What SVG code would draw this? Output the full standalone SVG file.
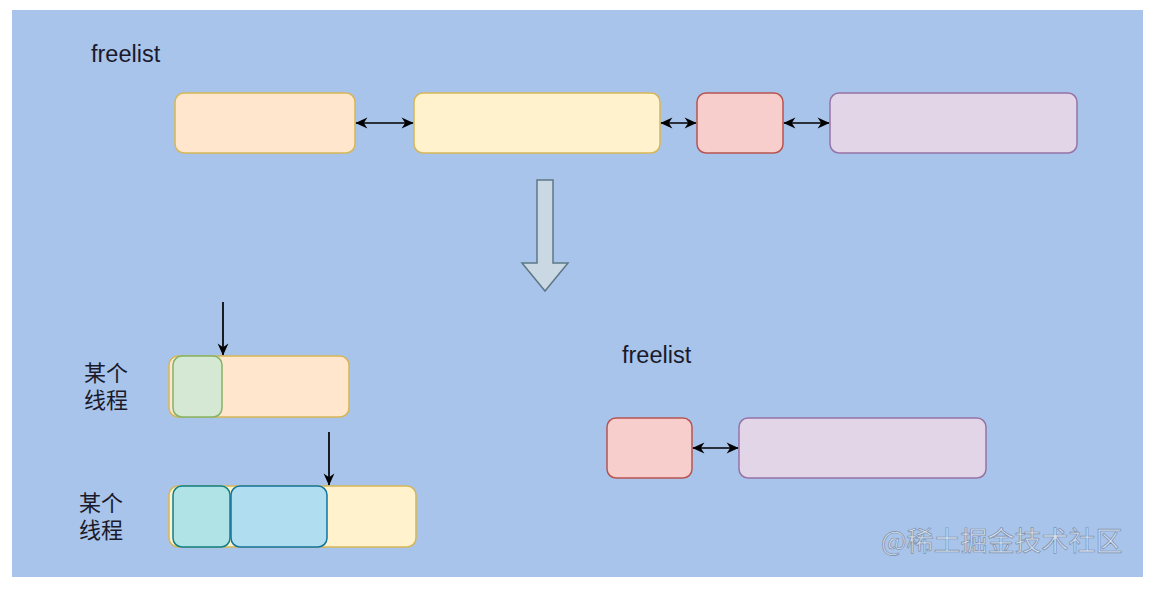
<svg xmlns="http://www.w3.org/2000/svg" width="1166" height="600" viewBox="0 0 1166 600">
<defs>
<marker id="ah" viewBox="0 0 10 10" refX="9.5" refY="5" markerWidth="13" markerHeight="12" markerUnits="userSpaceOnUse" orient="auto-start-reverse">
<path d="M0,0.5 L10,5 L0,9.5 L3,5 Z" fill="#000"/>
</marker>
<style>
.lbl{font-family:"Liberation Sans",Arial,sans-serif;font-size:23.5px;fill:#1a1a2a}
.cjk{font-family:"Noto Sans CJK SC","Noto Sans CJK JP",sans-serif;font-size:22px;fill:#1a1a2a}
.orange{fill:#FFE6CC;stroke:#D6B656;stroke-width:1.5}
.yellow{fill:#FFF2CC;stroke:#D6B656;stroke-width:1.5}
.red{fill:#F8CECC;stroke:#B85450;stroke-width:1.5}
.purple{fill:#E1D5E7;stroke:#9673A6;stroke-width:1.5}
.green{fill:#D5E8D4;stroke:#82B366;stroke-width:1.5}
.teal{fill:#B0E3E6;stroke:#0E8088;stroke-width:1.5}
.blue{fill:#B1DDF0;stroke:#10739E;stroke-width:1.5}
.conn{stroke:#000;stroke-width:1.7;fill:none}
.wm{font-family:"Noto Sans CJK SC",sans-serif;font-size:27px;fill:#D3DEEE;stroke:#7D90AA;stroke-width:0.7}
</style>
</defs>
<rect x="0" y="0" width="1166" height="600" fill="#fff"/>
<rect x="12" y="10" width="1131" height="567" fill="#A9C4EB"/>

<g id="label-freelist-top"><text class="lbl" x="91" y="62">freelist</text></g>
<g id="top-orange"><rect class="orange" x="175" y="93" width="180" height="60" rx="9"/></g>
<g id="top-yellow"><rect class="yellow" x="414" y="93" width="246" height="60" rx="9"/></g>
<g id="top-red"><rect class="red" x="697" y="93" width="86" height="60" rx="9"/></g>
<g id="top-purple"><rect class="purple" x="830" y="93" width="247" height="60" rx="9"/></g>

<g id="big-arrow"><path d="M537,180 L553,180 L553,263 L568,263 L545,291 L522,263 L537,263 Z" fill="#C9D8E2" stroke="#5E7787" stroke-width="1.5" stroke-linejoin="miter"/></g>

<g id="thread1-label"><text class="cjk" x="84" y="381">某个<tspan x="84" y="408">线程</tspan></text></g>
<g id="thread1-span"><rect class="orange" x="169" y="356" width="180" height="61" rx="9"/></g>
<g id="thread1-used"><rect class="green" x="173" y="356" width="49" height="61" rx="9"/></g>

<g id="thread2-label"><text class="cjk" x="79" y="511">某个<tspan x="79" y="538">线程</tspan></text></g>
<g id="thread2-span"><rect class="yellow" x="169" y="486" width="247" height="61" rx="9"/></g>
<g id="thread2-used1"><rect class="teal" x="173" y="486" width="57" height="61" rx="9"/></g>
<g id="thread2-used2"><rect class="blue" x="231" y="486" width="96" height="61" rx="9"/></g>

<g id="label-freelist-bottom"><text class="lbl" x="622" y="363">freelist</text></g>
<g id="bottom-red"><rect class="red" x="607" y="418" width="85" height="60" rx="9"/></g>
<g id="bottom-purple"><rect class="purple" x="739" y="418" width="247" height="60" rx="9"/></g>

<g id="connectors">
<line class="conn" x1="356" y1="123" x2="413" y2="123" marker-start="url(#ah)" marker-end="url(#ah)"/>
<line class="conn" x1="661" y1="123" x2="696" y2="123" marker-start="url(#ah)" marker-end="url(#ah)"/>
<line class="conn" x1="784" y1="123" x2="829" y2="123" marker-start="url(#ah)" marker-end="url(#ah)"/>
<line class="conn" x1="693" y1="448" x2="738" y2="448" marker-start="url(#ah)" marker-end="url(#ah)"/>
<line class="conn" x1="223" y1="302" x2="223" y2="355" marker-end="url(#ah)"/>
<line class="conn" x1="329" y1="432" x2="329" y2="485" marker-end="url(#ah)"/>
</g>

<text class="wm" x="881" y="551">@稀土掘金技术社区</text>
</svg>
